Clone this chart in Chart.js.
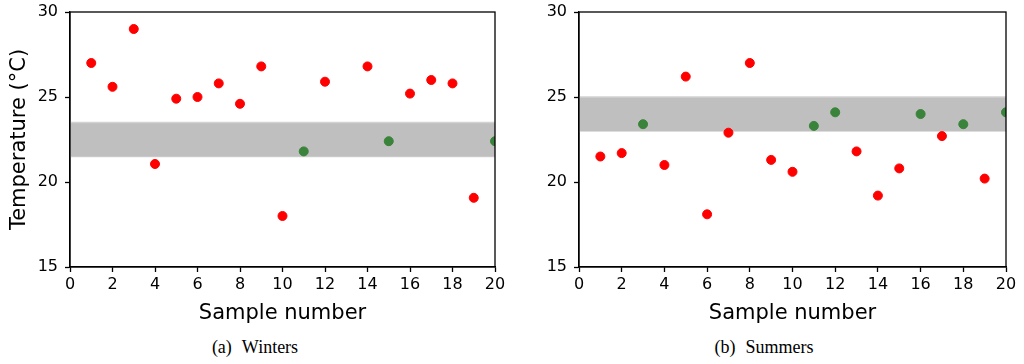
<!DOCTYPE html>
<html>
<head>
<meta charset="utf-8">
<script src="https://cdn.jsdelivr.net/npm/chart.js@4.4.1/dist/chart.umd.min.js"></script>
<style>
  body { margin: 0; background: #fff; width: 1024px; height: 364px; position: relative; overflow: hidden; }
  .panel { position: absolute; top: 0; }
  .caption { position: absolute; top: 337px; font-family: 'Liberation Serif', serif; font-size: 18px; color: #000; text-align: center; width: 512px; white-space: nowrap; }
  .caption span + span { margin-left: 10px; }
</style>
</head>
<body>
<div class="panel" style="left:0"><canvas id="winters" width="512" height="330"></canvas></div>
<div class="panel" style="left:512px"><canvas id="summers" width="512" height="330"></canvas></div>
<div class="caption" style="left:-1px"><span>(a)</span><span>Winters</span></div>
<div class="caption" style="left:508px"><span>(b)</span><span>Summers</span></div>
<script>
const samples = [1,2,3,4,5,6,7,8,9,10,11,12,13,14,15,16,17,18,19,20];
const winterTemps = [27.0,25.6,29.0,21.06,24.9,25.0,25.8,24.6,26.8,18.0,21.8,25.9,null,26.8,22.4,25.2,26.0,25.8,19.07,22.4];
const summerTemps = [21.5,21.7,23.4,21.0,26.2,18.1,22.9,27.0,21.3,20.6,23.3,24.1,21.8,19.2,20.8,24.0,22.7,23.4,20.2,24.1];
const winterBand = [21.5, 23.5];
const summerBand = [23.0, 25.0];
const xTicks = [0, 20, 2];
const yTicks = [15, 30, 5];

const boxPlugin = {
    id: 'box',
    afterDatasetsDraw(chart) {
        const a = chart.chartArea;
        const ctx = chart.ctx;
        ctx.save();
        ctx.strokeStyle = '#000';
        ctx.lineWidth = 1.3;
        ctx.strokeRect(a.left, a.top, a.right - a.left, a.bottom - a.top);
        ctx.restore();
    }
};

function split(temps, band, inside) {
    const pts = [];
    temps.forEach((t, i) => {
        if (t === null) return;
        const ok = t >= band[0] && t <= band[1];
        if (ok === inside) pts.push({x: samples[i], y: t});
    });
    return pts;
}

function makeChart(id, temps, band, yWidth, padRight, showTitle) {
    const tickFont = {family: 'DejaVu Sans', size: 16};
    return new Chart(document.getElementById(id), {
        type: 'scatter',
        data: {
            datasets: [{
                data: split(temps, band, false),
                backgroundColor: '#ff0000',
                borderColor: '#ff0000',
                pointRadius: 4.5,
                clip: 0
            }, {
                data: split(temps, band, true),
                backgroundColor: '#3a833a',
                borderColor: '#3a833a',
                pointRadius: 4.5,
                clip: 0
            }, {
                type: 'line',
                data: [{x: xTicks[0], y: band[1]}, {x: xTicks[1], y: band[1]}],
                borderColor: '#d2d2d2',
                borderWidth: 1.5,
                backgroundColor: '#bfbfbf',
                pointRadius: 0,
                fill: '+1'
            }, {
                type: 'line',
                data: [{x: xTicks[0], y: band[0]}, {x: xTicks[1], y: band[0]}],
                borderColor: '#d2d2d2',
                borderWidth: 1.5,
                pointRadius: 0,
                fill: false
            }]
        },
        options: {
            responsive: false,
            animation: false,
            devicePixelRatio: 1,
            layout: {padding: {top: 12, right: padRight, bottom: 0, left: 0}},
            plugins: {legend: {display: false}, tooltip: {enabled: false}},
            scales: {
                x: {
                    type: 'linear',
                    min: xTicks[0], max: xTicks[1],
                    ticks: {stepSize: xTicks[2], color: '#000', font: tickFont, padding: 3, maxRotation: 0},
                    grid: {drawOnChartArea: false, tickLength: 5, tickColor: '#000', tickWidth: 1.3},
                    border: {color: '#000', width: 1.3},
                    title: {display: true, text: 'Sample number', color: '#000', font: {family: 'DejaVu Sans', size: 21}, padding: 4},
                    afterFit(scale) { scale.height = 63; }
                },
                y: {
                    min: yTicks[0], max: yTicks[1],
                    ticks: {stepSize: yTicks[2], color: '#000', font: tickFont, padding: 7},
                    grid: {drawOnChartArea: false, tickLength: 5, tickColor: '#000', tickWidth: 1.3},
                    border: {color: '#000', width: 1.3},
                    title: {display: showTitle, text: 'Temperature (°C)', color: '#000', font: {family: 'DejaVu Sans', size: 21}, padding: 7},
                    afterFit(scale) {
                        scale.width = yWidth;
                        scale.paddingTop = 0;
                        scale.paddingBottom = 0;
                    }
                }
            }
        },
        plugins: [boxPlugin]
    });
}

makeChart('winters', winterTemps, winterBand, 70, 17, true);
makeChart('summers', summerTemps, summerBand, 67, 18, false);
</script>
</body>
</html>
